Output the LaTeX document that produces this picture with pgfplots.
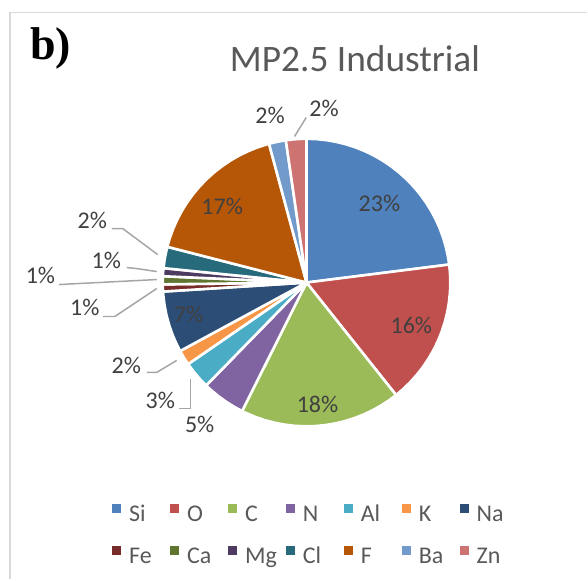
\documentclass[border=0pt]{standalone}
\usepackage{fontspec}
\setmainfont{Carlito}
\newfontfamily\timesfont{Liberation Serif}
\usepackage{pgfplots}
\pgfplotsset{compat=1.18}
\usepgfplotslibrary{polar}
\definecolor{si}{HTML}{4F81BD}
\definecolor{ox}{HTML}{C0504D}
\definecolor{cc}{HTML}{9BBB59}
\definecolor{nn}{HTML}{8064A2}
\definecolor{al}{HTML}{4BACC6}
\definecolor{kk}{HTML}{F79646}
\definecolor{na}{HTML}{2C4D75}
\definecolor{fe}{HTML}{772C2A}
\definecolor{ca}{HTML}{5F7530}
\definecolor{mg}{HTML}{4D3B62}
\definecolor{cl}{HTML}{276A7C}
\definecolor{ff}{HTML}{B65708}
\definecolor{ba}{HTML}{729ACA}
\definecolor{zn}{HTML}{CD7371}
\definecolor{labtext}{HTML}{404040}
\definecolor{legtext}{HTML}{595959}
\definecolor{leader}{HTML}{A6A6A6}
\definecolor{frame}{HTML}{D9D9D9}
\newcommand{\lt}[1]{\makebox[20.5pt][l]{#1}}
\tikzset{lab/.style={font=\fontsize{12}{14}\selectfont, text=labtext, inner sep=0pt, anchor=center}}
\begin{document}
\begin{tikzpicture}
\begin{axis}[
  scale only axis, width=294pt, height=290pt,
  xmin=-307, xmax=281, ymin=-297, ymax=283,
  hide axis, clip=false,
  legend columns=7,
  legend style={draw=none, fill=none, at={(axis cs:-195,-221)}, anchor=north west,
    inner sep=0pt, column sep=0pt, row sep=9pt,
    font=\fontsize{12}{14}\selectfont, text=legtext,
    nodes={inner sep=0pt, text height=9pt, text depth=3pt},
    /tikz/every odd column/.append style={column sep=4pt}},
  legend image code/.code={\fill[#1, draw=none] (0pt,1.5pt) rectangle (4.5pt,6pt);},
  slice/.style={draw=white, line width=1.3pt, line join=round, data cs=polar},
  lead/.style={forget plot, leader, line width=0.75pt},
]
% Si 23.0 %
\addplot[slice, fill=si] coordinates {(0,0) (90,144) (86,144) (82,144) (78,144) (74,144) (70,144) (66,144) (62,144) (58,144) (54,144) (50,144) (46,144) (42,144) (38,144) (34,144) (30,144) (26,144) (22,144) (18,144) (14,144) (10,144) (7.2,144) (0,0)};
% O 16.3 %
\addplot[slice, fill=ox] coordinates {(0,0) (7.2,144) (4,144) (0,144) (-4,144) (-8,144) (-12,144) (-16,144) (-20,144) (-24,144) (-28,144) (-32,144) (-36,144) (-40,144) (-44,144) (-48,144) (-51.48,144) (0,0)};
% C 18.1 %
\addplot[slice, fill=cc] coordinates {(0,0) (-51.48,144) (-55,144) (-59,144) (-63,144) (-67,144) (-71,144) (-75,144) (-79,144) (-83,144) (-87,144) (-91,144) (-95,144) (-99,144) (-103,144) (-107,144) (-111,144) (-115,144) (-116.64,144) (0,0)};
% N 4.9 %
\addplot[slice, fill=nn] coordinates {(0,0) (-116.64,144) (-120,144) (-124,144) (-128,144) (-132,144) (-134.28,144) (0,0)};
% Al 3.1 %
\addplot[slice, fill=al] coordinates {(0,0) (-134.28,144) (-138,144) (-142,144) (-145.44,144) (0,0)};
% K 1.7 %
\addplot[slice, fill=kk] coordinates {(0,0) (-145.44,144) (-148.5,144) (-151.56,144) (0,0)};
% Na 6.9 %
\addplot[slice, fill=na] coordinates {(0,0) (-151.56,144) (-155,144) (-159,144) (-163,144) (-167,144) (-171,144) (-175,144) (-176.4,144) (0,0)};
% Fe 0.8 %
\addplot[slice, fill=fe] coordinates {(0,0) (-176.4,144) (-177.84,144) (-179.28,144) (0,0)};
% Ca 0.9 %
\addplot[slice, fill=ca] coordinates {(0,0) (-179.28,144) (-180.9,144) (-182.52,144) (0,0)};
% Mg 0.9 %
\addplot[slice, fill=mg] coordinates {(0,0) (-182.52,144) (-184.14,144) (-185.76,144) (0,0)};
% Cl 2.4 %
\addplot[slice, fill=cl] coordinates {(0,0) (-185.76,144) (-190,144) (-194.4,144) (0,0)};
% F 16.8 %
\addplot[slice, fill=ff] coordinates {(0,0) (-194.4,144) (-198,144) (-202,144) (-206,144) (-210,144) (-214,144) (-218,144) (-222,144) (-226,144) (-230,144) (-234,144) (-238,144) (-242,144) (-246,144) (-250,144) (-254,144) (-254.88,144) (0,0)};
% Ba 1.9 %
\addplot[slice, fill=ba] coordinates {(0,0) (-254.88,144) (-258,144) (-261.72,144) (0,0)};
% Zn 2.3 %
\addplot[slice, fill=zn] coordinates {(0,0) (-261.72,144) (-265,144) (-268,144) (-270,144) (0,0)};
\legend{\lt{Si},\lt{O},\lt{C},\lt{N},\lt{Al},\lt{K},\lt{Na},\lt{Fe},\lt{Ca},\lt{Mg},\lt{Cl},\lt{F},\lt{Ba},\lt{Zn}}
% leader lines
\addplot[lead] coordinates {(-0.3,165.3) (-12,146.3)};
\addplot[lead] coordinates {(-195,54) (-184,54) (-149,28)};
\addplot[lead] coordinates {(-180,15) (-170,14) (-150,11)};
\addplot[lead] coordinates {(-248,-2) (-150,3)};
\addplot[lead] coordinates {(-204,-34) (-192,-34) (-150,-6)};
\addplot[lead] coordinates {(-160,-90) (-150,-90) (-130,-78)};
\addplot[lead] coordinates {(-128,-126) (-116,-126) (-116,-97)};
% frame
\addplot[forget plot, frame, line width=0.9pt] coordinates {(-297,-297) (-297,270.5) (281,270.5)};
% labels
\node[lab] at (axis cs:73,79.5) {23\%};
\node[lab] at (axis cs:105,-42.5) {16\%};
\node[lab] at (axis cs:11,-122) {18\%};
\node[lab] at (axis cs:-118,-32) {7\%};
\node[lab] at (axis cs:-84.5,76.5) {17\%};
\node[lab] at (axis cs:-36.5,167.5) {2\%};
\node[lab] at (axis cs:17.5,174.5) {2\%};
\node[lab] at (axis cs:-214.5,62.5) {2\%};
\node[lab] at (axis cs:-200.5,22.5) {1\%};
\node[lab] at (axis cs:-266.5,7.5) {1\%};
\node[lab] at (axis cs:-222,-25) {1\%};
\node[lab] at (axis cs:-180.5,-82.5) {2\%};
\node[lab] at (axis cs:-146.5,-118) {3\%};
\node[lab] at (axis cs:-107,-142) {5\%};
\node[anchor=base, font=\fontsize{18.7}{22}\selectfont, text=legtext, inner sep=0pt] at (axis cs:48.5,211) {MP2.5 Industrial};
\node[anchor=base west, font=\timesfont\bfseries\fontsize{23}{26}\selectfont, inner sep=0pt] at (axis cs:-277,223) {b)};
\path (rel axis cs:0,0) rectangle (rel axis cs:1,1);
\end{axis}
\end{tikzpicture}
\end{document}
